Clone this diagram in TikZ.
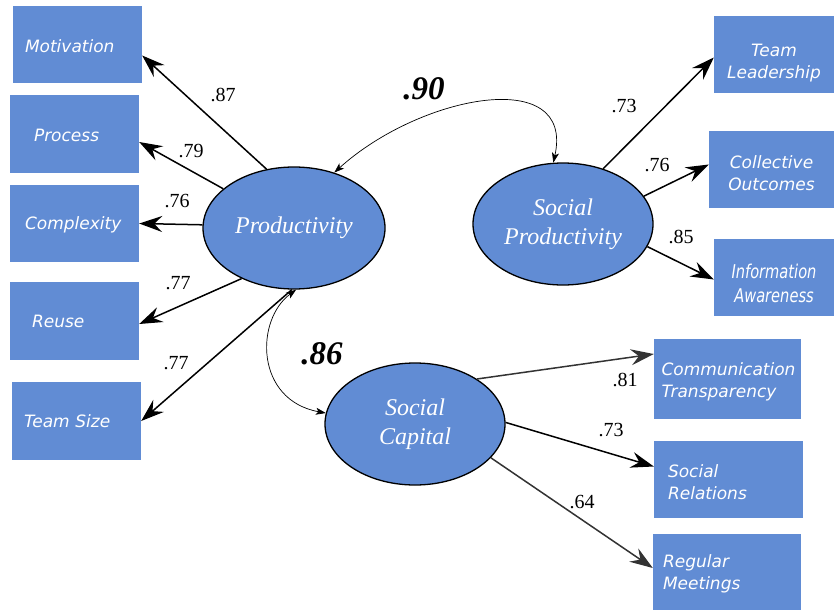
\documentclass[tikz,border=0pt]{standalone}
\usepackage{fontspec}
\setmainfont{Liberation Serif}
\newfontfamily\boxfont{DejaVu Sans}
\usetikzlibrary{shapes.geometric,arrows.meta}
\definecolor{semblue}{RGB}{97,140,212}
\tikzset{indbox/.style={fill=semblue, text=white, minimum width=129pt, minimum height=77pt, inner sep=0pt, align=center, font=\boxfont\itshape\fontsize{17}{22}\selectfont}}
\tikzset{leftbox/.style={align=left, text width=#1}}
\tikzset{latentvar/.style={ellipse, draw, line width=1.3pt, fill=semblue, text=white, minimum width=182pt, minimum height=122pt, inner sep=0pt, align=center, font=\itshape\fontsize{24}{29}\selectfont}}
\tikzset{ldarrow/.style={-{Stealth[length=23pt,width=16pt,inset=8pt]}, line width=1.5pt}}
\tikzset{corrarrow/.style={{Stealth[length=10pt,width=7pt,inset=2.5pt]}-{Stealth[length=10pt,width=7pt,inset=2.5pt]}, line width=0.7pt}}
\tikzset{loadlbl/.style={inner sep=0pt, font=\fontsize{20}{22}\selectfont}}
\tikzset{corrlbl/.style={inner sep=0pt, font=\bfseries\itshape\fontsize{33}{36}\selectfont}}

\begin{document}
\begin{tikzpicture}[x=1pt, y=-1pt]
\useasboundingbox (0,0) rectangle (834,610);
% observed indicators
\node[indbox, leftbox=105pt, text height=16pt] (motiv) at (77.5,44.5) {Motivation};
\node[indbox, leftbox=81pt, text height=16pt, minimum height=78pt] (proc) at (74.5,134) {Process};
\node[indbox, leftbox=99pt, text height=16pt] (compl) at (74.5,223.5) {Complexity};
\node[indbox, leftbox=85pt, text height=14pt, minimum height=78pt] (reuse) at (74.5,321) {Reuse};
\node[indbox, leftbox=105pt, text height=14pt, minimum height=78pt] (tsize) at (76.5,421) {Team Size};
\node[indbox, minimum width=120pt, text height=52pt] (tlead) at (774,54.5) {Team\\Leadership};
\node[indbox, minimum width=125pt, text height=42pt] (cout) at (771.5,169.5) {Collective\\Outcomes};
\node[indbox, minimum width=120pt, text height=50pt, font=\boxfont\itshape\fontsize{19}{24}\selectfont] (infoa) at (774,277.5) {\scalebox{0.77}[1]{Information}\\\scalebox{0.77}[1]{Awareness}};
\node[indbox, leftbox=132pt, text height=18pt, minimum width=147pt, minimum height=80pt] (comm) at (727.5,379) {Communication\\Transparency};
\node[indbox, leftbox=121pt, text height=18pt, minimum width=149pt] (srel) at (728.5,479.5) {Social\\Relations};
\node[indbox, leftbox=128pt, text height=16pt, minimum width=148pt, minimum height=76pt] (regm) at (727,572) {Regular\\Meetings};
% latent variables
\node[latentvar] (prod) at (294,228) {Productivity};
\node[latentvar, minimum width=180pt] (sprod) at (563,224) {Social\\Productivity};
\node[latentvar, minimum width=180pt] (scap) at (415,424) {Social\\Capital};
% loadings
\draw[ldarrow] (prod.115) -- ([yshift=-11pt]motiv.east);
\draw[ldarrow] (prod.151) -- ([yshift=-8pt]proc.east);
\draw[ldarrow] (prod.178) -- (compl.east);
\draw[ldarrow] (prod.224) -- ([yshift=-3pt]reuse.east);
\draw[ldarrow] (prod.268) -- (tsize.east);
\draw[ldarrow] (sprod.54) -- ([yshift=-3pt]tlead.west);
\draw[ldarrow] (sprod.19) -- ([yshift=5pt]cout.west);
\draw[ldarrow] (sprod.-15) -- ([yshift=-2pt]infoa.west);
\draw[ldarrow, black!80] (scap.36) -- ([yshift=25pt]comm.west);
\draw[ldarrow] (scap.1) -- ([yshift=13pt]srel.west);
\draw[ldarrow, black!80] (scap.-24) -- ([yshift=4pt]regm.west);
\node[loadlbl] (l87) at (223,95) {.87};
\node[loadlbl] (l79) at (191,151) {.79};
\node[loadlbl] (l76) at (177,201) {.76};
\node[loadlbl] (l77a) at (178,283) {.77};
\node[loadlbl] (l77b) at (176,363) {.77};
\node[loadlbl] (l73a) at (624,106) {.73};
\node[loadlbl] (l76b) at (657,165) {.76};
\node[loadlbl] (l85) at (681,237) {.85};
\node[loadlbl] (l81) at (625,380) {.81};
\node[loadlbl] (l73b) at (611,430) {.73};
\node[loadlbl] (l64) at (582,502) {.64};
% correlations
\draw[corrarrow] (prod.54) .. controls (420,95) and (575,65) .. (sprod.99);
\draw[corrarrow] (prod.272) .. controls (255,320) and (255,400) .. (scap.173);
\node[corrlbl] (c90) at (424,89) {.90};
\node[corrlbl] (c86) at (322,354) {.86};
\end{tikzpicture}
\end{document}
